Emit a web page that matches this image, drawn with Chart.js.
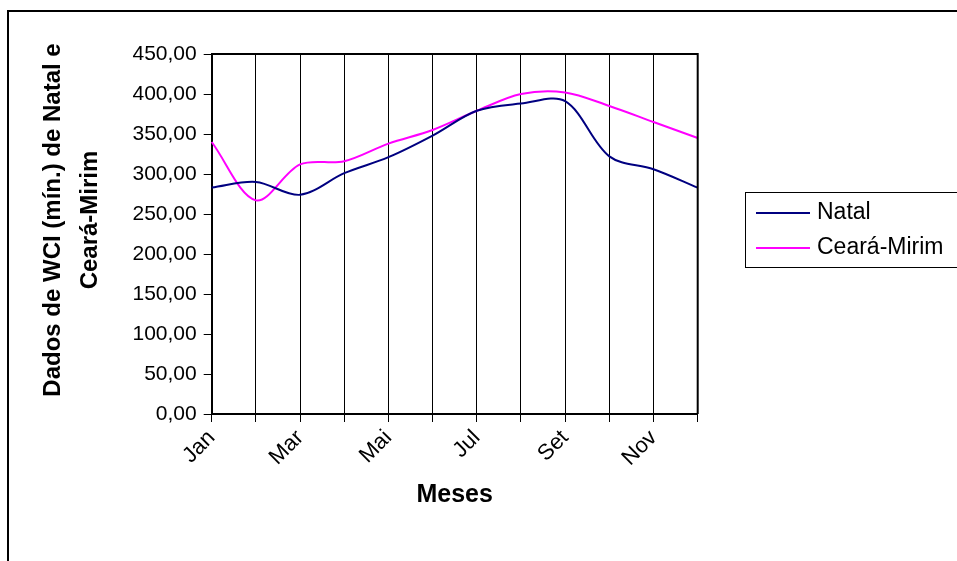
<!DOCTYPE html>
<html>
<head>
<meta charset="utf-8">
<script src="https://cdn.jsdelivr.net/npm/chart.js@4.4.1/dist/chart.umd.min.js"></script>
<style>
  html, body { margin: 0; padding: 0; background: #fff; }
  canvas { display: block; }
</style>
</head>
<body>
<canvas id="wci" width="957" height="561"></canvas>
<script>
var meses = ['Jan', 'Fev', 'Mar', 'Abr', 'Mai', 'Jun', 'Jul', 'Ago', 'Set', 'Out', 'Nov', 'Dez'];
var natal = [283, 290, 274, 301, 321, 348, 379, 388, 391, 322, 306, 283];
var cearaMirim = [340, 267, 312, 316, 338, 355, 379, 400, 402, 385, 365, 345];
var nomesSeries = ['Natal', 'Ceará-Mirim'];
var coresSeries = ['#000080', '#ff00ff'];
var tituloY = ['Dados de WCI (mín.) de Natal e', 'Ceará-Mirim'];
var tituloX = 'Meses';

var fonte = "'Liberation Sans', Arial, sans-serif";

// moldura, borda da area do grafico, titulo vertical e legenda
var molduraPlugin = {
    id: 'moldura',
    beforeDraw: function (chart) {
        var ctx = chart.ctx;
        ctx.save();
        ctx.fillStyle = '#fff';
        ctx.fillRect(0, 0, chart.width, chart.height);
        ctx.strokeStyle = '#000';
        ctx.lineWidth = 2;
        ctx.strokeRect(8, 11, 1200, 800);
        ctx.restore();
    },
    afterDraw: function (chart) {
        var ctx = chart.ctx;
        var area = chart.chartArea;
        ctx.save();
        ctx.strokeStyle = '#000';
        ctx.lineWidth = 2;
        ctx.beginPath();
        ctx.moveTo(area.left, area.top);
        ctx.lineTo(area.right, area.top);
        ctx.lineTo(area.right, area.bottom);
        ctx.stroke();

        // titulo do eixo y em duas linhas
        ctx.fillStyle = '#000';
        ctx.font = 'bold 24px ' + fonte;
        ctx.textAlign = 'center';
        ctx.textBaseline = 'middle';
        ctx.translate(53, 220);
        ctx.rotate(-Math.PI / 2);
        tituloY.forEach(function (linha, i) {
            ctx.fillText(linha, 0, i * 37);
        });
        ctx.restore();

        // legenda
        ctx.save();
        ctx.strokeStyle = '#000';
        ctx.lineWidth = 1;
        ctx.strokeRect(745.5, 192.5, 300, 75);
        ctx.font = '23px ' + fonte;
        ctx.textBaseline = 'middle';
        ctx.fillStyle = '#000';
        chart.data.datasets.forEach(function (ds, i) {
            var y = 213 + i * 35;
            ctx.strokeStyle = ds.borderColor;
            ctx.lineWidth = 2;
            ctx.beginPath();
            ctx.moveTo(756, y);
            ctx.lineTo(810, y);
            ctx.stroke();
            ctx.fillText(ds.label, 817, y);
        });
        ctx.restore();
    }
};

var ctx = document.getElementById('wci').getContext('2d');
var graficoWci = new Chart(ctx, {
    type: 'line',
    data: {
        labels: meses,
        datasets: [{
            label: nomesSeries[0],
            data: natal,
            borderColor: coresSeries[0],
            borderWidth: 2,
            pointRadius: 0,
            tension: 0.33,
            fill: false
        }, {
            label: nomesSeries[1],
            data: cearaMirim,
            borderColor: coresSeries[1],
            borderWidth: 2,
            pointRadius: 0,
            tension: 0.33,
            fill: false
        }]
    },
    options: {
        responsive: false,
        animation: false,
        devicePixelRatio: 1,
        layout: { padding: { left: 0, top: 54, right: 259.3, bottom: 0 } },
        plugins: {
            legend: { display: false },
            tooltip: { enabled: false }
        },
        scales: {
            x: {
                afterFit: function (scale) { scale.height = 147; },
                grid: { color: '#000', lineWidth: 1, tickLength: 8, drawOnChartArea: true },
                border: { color: '#000', width: 2 },
                ticks: {
                    autoSkip: false,
                    maxRotation: 45,
                    minRotation: 45,
                    color: '#000',
                    font: { family: fonte, size: 22 },
                    callback: function (valor, indice) {
                        return indice % 2 === 0 ? meses[indice] : '';
                    }
                },
                title: {
                    display: true,
                    text: tituloX,
                    color: '#000',
                    font: { family: fonte, size: 25, weight: 'bold' },
                    padding: { top: 0, bottom: 51 }
                }
            },
            y: {
                min: 0,
                max: 450,
                afterFit: function (scale) { scale.width = 211.7; },
                grid: { drawOnChartArea: false, color: '#000', tickLength: 8 },
                border: { color: '#000', width: 2 },
                ticks: {
                    stepSize: 50,
                    padding: 7,
                    color: '#000',
                    font: { family: fonte, size: 21 },
                    callback: function (valor) {
                        return valor.toFixed(2).replace('.', ',');
                    }
                }
            }
        }
    },
    plugins: [molduraPlugin]
});
</script>
</body>
</html>
